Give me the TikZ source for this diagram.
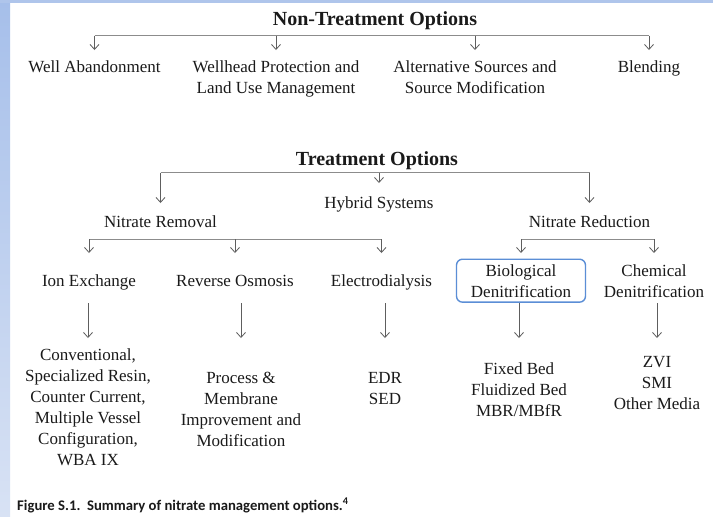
\documentclass[tikz,border=0pt]{standalone}
\usepackage{fontspec}
\setmainfont{Liberation Serif}
\newfontfamily\capfont{Carlito}
\usetikzlibrary{arrows.meta}
\definecolor{busc}{HTML}{8C8C8C}
\definecolor{arrc}{HTML}{5E5E5E}
\definecolor{boxc}{HTML}{5B8ED6}
\definecolor{bgtop}{HTML}{A6BFEA}
\definecolor{bgbot}{HTML}{D8E2F4}
\definecolor{bgband}{HTML}{AFC5EB}
\definecolor{txt}{HTML}{1A1A1A}
\begin{document}
\begin{tikzpicture}[x=1pt,y=-1pt,
  lbl/.style={anchor=base, inner sep=0pt, text=txt, font=\fontsize{17}{21}\selectfont, align=center},
  ttl/.style={anchor=base, inner sep=0pt, text=txt, font=\fontsize{20}{24}\selectfont\bfseries},
  boxed/.style={draw=boxc, line width=1.4pt, rounded corners=6pt, inner xsep=4pt, inner ysep=5pt, minimum width=129pt},
  bus/.style={draw=busc, line width=0.9pt},
  arr/.style={draw=arrc, line width=0.8pt, -{Straight Barb[length=5pt,width=9pt]}}]
% background
\useasboundingbox (0,0) rectangle (713,517);
\fill[white] (0,0) rectangle (713,517);
\shade[top color=bgtop, bottom color=bgbot] (0,0) rectangle (10,517);
\fill[bgband] (0,0) rectangle (713,3);

% Non-treatment (multi-line nodes are placed by the baseline of their last line)
\node[ttl] (nto) at (375,25) {Non-Treatment Options};
\node[lbl] (wa) at (94.5,72) {Well Abandonment};
\node[lbl] (wh) at (276,93) {Wellhead Protection and\\Land Use Management};
\node[lbl] (alt) at (475,93) {Alternative Sources and\\Source Modification};
\node[lbl] (bl) at (649,72) {Blending};
\coordinate (y1) at (0,35.5);
\coordinate (y1t) at (0,50);
\draw[bus] (wa |- y1) -- (bl |- y1);
\foreach \n in {wa,wh,alt,bl} \draw[arr] (\n |- y1) -- (\n |- y1t);

% Treatment
\node[ttl] (to) at (377,165) {Treatment Options};
\node[lbl] (hy) at (379,208) {Hybrid Systems};
\node[lbl] (nrm) at (160.5,227) {Nitrate Removal};
\node[lbl] (nrd) at (589.5,227) {Nitrate Reduction};
\coordinate (y2) at (0,172.5);
\coordinate (y2t) at (0,203);
\coordinate (y2h) at (0,183);
\draw[bus] (nrm |- y2) -- (nrd |- y2);
\draw[arr] (nrm |- y2) -- (nrm |- y2t);
\draw[arr] (hy |- y2) -- (hy |- y2h);
\draw[arr] (nrd |- y2) -- (nrd |- y2t);

% second level
\node[lbl] (ix) at (89,286) {Ion Exchange};
\node[lbl] (ro) at (235,286) {Reverse Osmosis};
\node[lbl] (ed) at (381.5,286) {Electrodialysis};
\node[lbl, boxed] (bio) at (521,297) {Biological\\Denitrification};
\node[lbl] (chem) at (654,297) {Chemical\\Denitrification};
\coordinate (y3) at (0,239);
\coordinate (y3t) at (0,253);
\draw[bus] (ix |- y3) -- (ed |- y3);
\foreach \n in {ix,ro,ed} \draw[arr] (\n |- y3) -- (\n |- y3t);
\draw[bus] (bio |- y3) -- (chem |- y3);
\foreach \n in {bio,chem} \draw[arr] (\n |- y3) -- (\n |- y3t);

% third level
\node[lbl] (conv) at (88,465) {Conventional,\\Specialized Resin,\\Counter Current,\\Multiple Vessel\\Configuration,\\WBA IX};
\node[lbl] (proc) at (241,446) {Process \&\\Membrane\\Improvement and\\Modification};
\node[lbl] (edr) at (385,404) {EDR\\SED};
\node[lbl] (fb) at (519,416) {Fixed Bed\\Fluidized Bed\\MBR/MBfR};
\node[lbl] (zvi) at (657,409) {ZVI\\SMI\\Other Media};
\coordinate (y4) at (0,303);
\coordinate (y4t) at (0,338);
\foreach \n in {conv,proc,edr,zvi} \draw[arr] (\n |- y4) -- (\n |- y4t);
\draw[arr] (fb |- bio.south) -- (fb |- y4t);

% caption
\node[anchor=base west, inner sep=0pt, text=txt, font=\capfont\bfseries\fontsize{14.7}{17}\selectfont] (cap) at (17,510) {Figure S.1.\ \ Summary of nitrate management options.\textsuperscript{4}};
\end{tikzpicture}
\end{document}
